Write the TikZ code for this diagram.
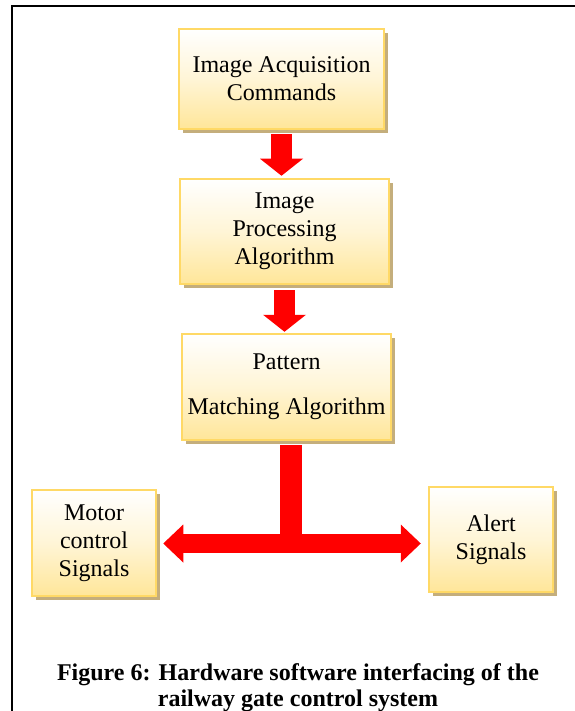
\documentclass[tikz,border=0pt]{standalone}
\usepackage{fontspec}
\setmainfont{Liberation Serif}
\usetikzlibrary{arrows.meta,shadows}
\definecolor{GateGold}{HTML}{FFD966}
\definecolor{GateCream}{HTML}{FFE699}
\definecolor{GateTan}{HTML}{C4AE7C}
\definecolor{GateRed}{HTML}{FF0000}
\tikzset{
  flowbox/.style={draw=GateGold,line width=2.5pt,top color=white,bottom color=GateCream,middle color=GateCream!40,
    general shadow={fill=GateTan,shadow xshift=4pt,shadow yshift=-4pt},
    align=center,inner sep=0pt,font=\fontsize{24}{28}\selectfont},
  blockarrow/.style={GateRed,line width=21pt,-{Triangle[width=43pt,length=17pt,line width=0pt]}},
  teearrow/.style={GateRed,line width=19pt,{Triangle[width=38pt,length=20pt,line width=0pt]}-{Triangle[width=38pt,length=20pt,line width=0pt]}}
}

\begin{document}
\begin{tikzpicture}[x=1pt,y=-1pt,line join=miter]
  \useasboundingbox (0,0) rectangle (574,711);
  \draw[line width=2pt] (12,712) -- (12,6) -- (575,6);
  \node[flowbox,minimum width=205pt,minimum height=100pt] (acq) at (281.5,79) {Image Acquisition\\Commands};
  \node[flowbox,minimum width=209pt,minimum height=105pt] (proc) at (284.5,231.5) {Image\\Processing\\Algorithm};
  \node[flowbox,minimum width=209pt,minimum height=106pt] (match) at (286.5,387) {Pattern\\[17pt]Matching Algorithm};
  \node[flowbox,minimum width=124pt,minimum height=106pt] (motor) at (94,543) {Motor\\control\\Signals};
  \node[flowbox,minimum width=124pt,minimum height=105pt] (alert) at (491,539.5) {Alert\\Signals};
  \node[font=\bfseries\fontsize{24}{26}\selectfont,align=center] (caption) at (298,688) {Figure 6: Hardware software interfacing of the\\railway gate control system};
  \draw[blockarrow] ([yshift=-4pt]acq.south) -- ([yshift=2pt]acq.south |- proc.north);
  \draw[blockarrow] ([yshift=-5pt]proc.south) -- ([yshift=1pt]proc.south |- match.north);
  \coordinate (split) at (291,543.5);
  \draw[GateRed,line width=22pt] ([yshift=-4pt]match.south -| split) -- (split);
  \draw[teearrow] ([xshift=6pt]split -| motor.east) -- ([xshift=-7pt]split -| alert.west);
\end{tikzpicture}
\end{document}
